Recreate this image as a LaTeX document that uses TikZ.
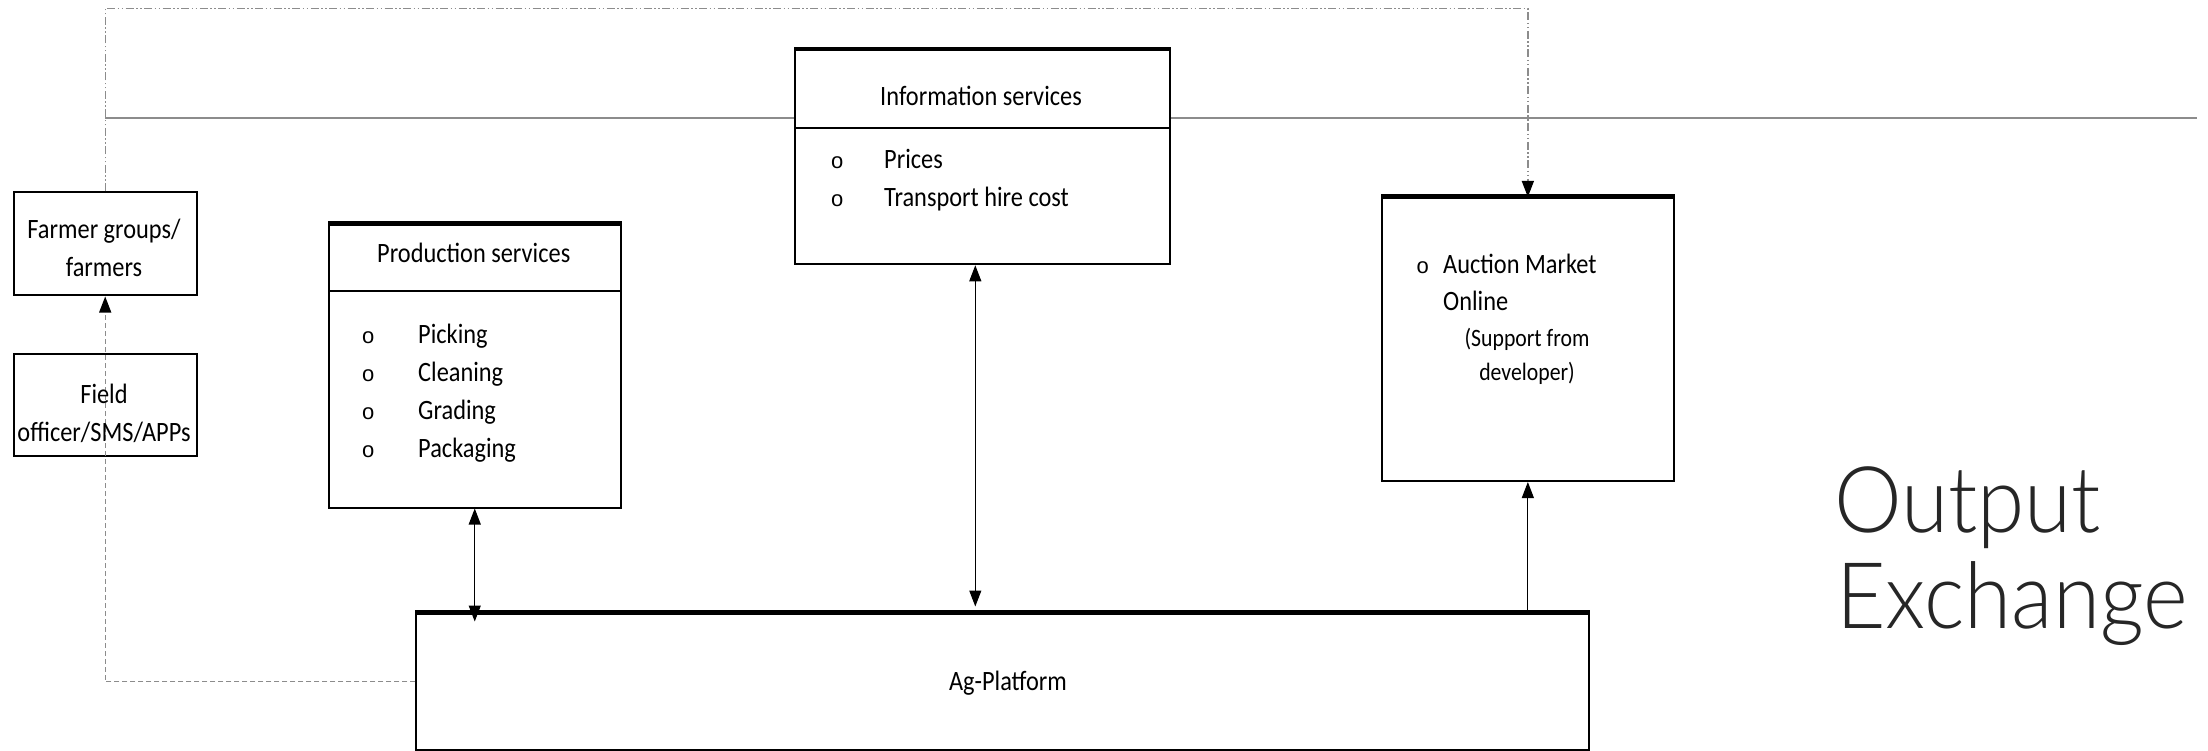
\documentclass[tikz,border=0pt]{standalone}
\usepackage{fontspec}
\setmainfont{Carlito}[FakeStretch=0.87]
\newfontfamily\titlefont{Lato}[UprightFont=* Light,FakeStretch=0.93]
\newfontfamily\bulletfont{Liberation Sans}
\usetikzlibrary{arrows.meta,calc}
\definecolor{dark}{HTML}{262626}
\definecolor{rulegray}{HTML}{8C8C8C}
% bullet followed by text at a fixed indent
\newcommand\bitem[2][56pt]{\makebox[#1][l]{\bulletfont\fontsize{22}{22}\selectfont o}#2}

\begin{document}
\begin{tikzpicture}[x=1pt,y=-1pt,
  >={Triangle[length=16pt,width=12pt,black]},
  box/.style={draw=black,line width=2pt,fill=white,anchor=north west,inner sep=0pt},
  heavytop/.style={line width=3.5pt},
  lbl/.style={inner sep=0pt,font=\fontsize{28}{38}\selectfont},
  small/.style={inner sep=0pt,font=\fontsize{25}{34}\selectfont},
  item/.style={lbl,anchor=base west},
  link/.style={draw=black,line width=1.1pt},
  dashdot/.style={draw=rulegray,line width=1.3pt,dash pattern=on 8pt off 2.5pt on 1.5pt off 2.5pt on 1.5pt off 2.5pt},
  dashline/.style={draw=rulegray,line width=1.3pt,dash pattern=on 5pt off 3pt},
  rule/.style={draw=rulegray,line width=1.8pt},
  bigword/.style={inner sep=0pt,anchor=base west,text=dark,font=\titlefont\fontsize{92}{97}\selectfont}]

\useasboundingbox (0,0) rectangle (2208,751);

% boxes
\node[box,minimum width=183pt,minimum height=103pt] (farm) at (12.7,191.5) {};
\node[box,minimum width=183pt,minimum height=101.5pt] (field) at (12.7,353.4) {};

% thin grey rule across the top
\coordinate (ruley) at (0,118.3);
\coordinate (ruleend) at (2197,118.3);
\draw[rule] (farm.north |- ruley) -- (ruleend);

\node[box,minimum width=291.5pt,minimum height=282.6pt] (prod) at (328,223.9) {};
\node[box,minimum width=374.6pt,minimum height=214pt] (info) at (794,49.3) {};
\node[box,minimum width=291.7pt,minimum height=283pt] (auct) at (1381,197) {};
\node[box,minimum width=1172.6pt,minimum height=136pt] (ag) at (415.4,612.5) {};

% heavier top edges
\foreach \b in {prod,info,auct,ag}
  \draw[heavytop] ([yshift=1pt]\b.north west) -- ([yshift=1pt]\b.north east);

% header dividers
\coordinate (prodcut) at (0,291.5);
\coordinate (infocut) at (0,128.1);
\draw[line width=2pt] (prod.west |- prodcut) -- (prod.east |- prodcut);
\draw[line width=2pt] (info.west |- infocut) -- (info.east |- infocut);

% connectors
\draw[link,<->] (prod.south) -- ($(ag.north -| prod.south)+(0,9)$);
\coordinate (infoport) at ($(info.south)+(-7,0)$);
\draw[link,<->] (infoport) -- ($(ag.north -| infoport)+(0,-6)$);
\draw[link,->] (ag.north -| auct.south) -- (auct.south);
\draw[dashline,->] (ag.west) -- (farm.south |- ag.west) -- (farm.south);
\coordinate (topy) at (0,8.5);
\draw[dashdot,->] (farm.north) -- (farm.north |- topy) -- (auct.north |- topy) -- (auct.north);

% texts
\node[lbl,anchor=base] (farmA) at (104,239) {Farmer groups/};
\node[lbl,anchor=base] (farmB) at (104,277) {farmers};
\node[lbl,anchor=base] (fieldA) at (104,403) {Field};
\node[lbl,anchor=base] (fieldB) at (104,441) {officer/SMS/APPs};

\node[lbl,anchor=base] (prodhead) at (473.75,263) {Production services};
\node[item] (p1) at (362,343.5) {\bitem{Picking}};
\node[item] (p2) at (362,381.5) {\bitem{Cleaning}};
\node[item] (p3) at (362,419.6) {\bitem{Grading}};
\node[item] (p4) at (362,457.6) {\bitem{Packaging}};

\node[lbl,anchor=base] (infohead) at (981,105.6) {Information services};
\node[item] (i1) at (831,169) {\bitem[53pt]{Prices}};
\node[item] (i2) at (831,207) {\bitem[53pt]{Transport hire cost}};

\node[item] (a1) at (1416.5,273) {\bitem[26.5pt]{Auction Market}};
\node[item] (a2) at (1443,310) {Online};
\node[small,anchor=base] (a3) at (1527,346) {(Support from};
\node[small,anchor=base] (a4) at (1527,380) {developer)};

\node[lbl,anchor=base] (agtext) at (1008,690) {Ag-Platform};

\node[bigword] (out1) at (1834,532) {Output};
\node[bigword] (out2) at (1836,628) {Exchange};
\end{tikzpicture}
\end{document}
